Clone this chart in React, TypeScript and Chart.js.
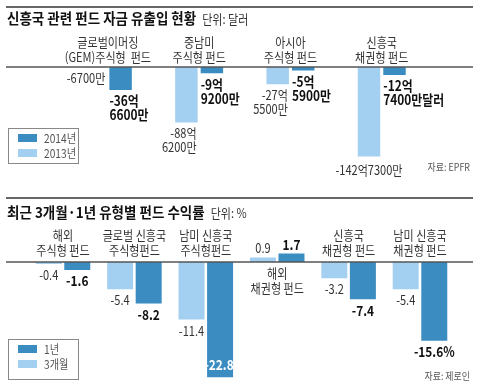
import React, { useEffect, useRef } from "react";
import { Chart, registerables } from "chart.js";
Chart.register(...registerables);

// ---------- Data: fund flows (unit: 억 달러) ----------
const flowCategories = [
  ["글로벌이머징", "(GEM)주식형  펀드"],
  ["중남미", "주식형 펀드"],
  ["아시아", "주식형 펀드"],
  ["신흥국", "채권형 펀드"],
];
const flow2013 = [-0.67, -88.62, -27.55, -142.73];
const flow2014 = [-36.66, -9.92, -5.59, -12.74];
const flow2013Text = [["-6700만"], ["-88억", "6200만"], ["-27억", "5500만"], ["-142억7300만"]];
const flow2014Text = [["-36억", "6600만"], ["-9억", "9200만"], ["-5억", "5900만"], ["-12억", "7400만달러"]];
const flowLegend = ["2014년", "2013년"];

// ---------- Data: returns (unit: %) ----------
const returnCategories = [
  ["해외", "주식형 펀드"],
  ["글로벌 신흥국", "주식형펀드"],
  ["남미 신흥국", "주식형펀드"],
  ["해외", "채권형 펀드"],
  ["신흥국", "채권형 펀드"],
  ["남미 신흥국", "채권형 펀드"],
];
const return3m = [-0.4, -5.4, -11.4, 0.9, -3.2, -5.4];
const return1y = [-1.6, -8.2, -22.8, 1.7, -7.4, -15.6];
const return3mText = ["-0.4", "-5.4", "-11.4", "0.9", "-3.2", "-5.4"];
const return1yText = ["-1.6", "-8.2", "-22.8", "1.7", "-7.4", "-15.6%"];
const returnLegend = ["1년", "3개월"];

const DARK = "#3a8cc1";
const LIGHT = "#a3cff0";
const FONT = '"Noto Sans CJK KR", "Noto Sans", sans-serif';

type TOpt = { size: number; bold?: boolean; color?: string; align?: "left" | "right" | "center"; sx?: number };
function txt(ctx: CanvasRenderingContext2D, s: string, x: number, y: number, o: TOpt): number {
  ctx.save();
  ctx.font = `${o.bold ? "bold " : ""}${o.size}px ${FONT}`;
  ctx.fillStyle = o.color || "#222";
  ctx.textBaseline = "middle";
  ctx.textAlign = "left";
  const sx = o.sx ?? 0.85;
  const w = ctx.measureText(s).width * sx;
  let x0 = x;
  if (o.align === "center") x0 = x - w / 2;
  else if (o.align === "right") x0 = x - w;
  ctx.translate(x0, y);
  ctx.scale(sx, 1);
  ctx.fillText(s, 0, 0);
  ctx.restore();
  return w;
}
function hline(ctx: CanvasRenderingContext2D, y: number, x1: number, x2: number, color = "#444", w = 1.3) {
  ctx.save();
  ctx.strokeStyle = color;
  ctx.lineWidth = w;
  ctx.beginPath();
  ctx.moveTo(x1, y);
  ctx.lineTo(x2, y);
  ctx.stroke();
  ctx.restore();
}
function legendBox(ctx: CanvasRenderingContext2D, top: number, h: number, labels: string[]) {
  ctx.save();
  ctx.strokeStyle = "#888";
  ctx.lineWidth = 1;
  ctx.strokeRect(8.5, top + 0.5, 70, h);
  ctx.fillStyle = DARK;
  ctx.fillRect(18, top + 6, 19, 8);
  ctx.fillStyle = LIGHT;
  ctx.fillRect(18, top + 21, 19, 8);
  ctx.restore();
  txt(ctx, labels[0], 44, top + 10, { size: 12, color: "#555" });
  txt(ctx, labels[1], 44, top + 25, { size: 12, color: "#555" });
}

const flowPlugin = {
  id: "flowDecor",
  afterDraw(chart: any) {
    const ctx = chart.ctx as CanvasRenderingContext2D;
    const xs = chart.scales.x;
    const ys = chart.scales.y;
    hline(ctx, 7, 6, 473, "#333", 1.5);
    const tw = txt(ctx, "신흥국 관련 펀드 자금 유출입 현황", 7, 18, { size: 15, bold: true, sx: 0.9, color: "#111" });
    txt(ctx, "단위: 달러", 7 + tw + 6, 19, { size: 13, color: "#333" });
    flowCategories.forEach((lines, i) => {
      const cx = xs.getPixelForValue(i);
      txt(ctx, lines[0], cx, 42, { size: 13, align: "center", color: "#333" });
      txt(ctx, lines[1], cx, 57, { size: 13, align: "center", color: "#333" });
    });
    const y0 = ys.getPixelForValue(0);
    hline(ctx, y0, 6, 473, "#555", 1.3);
    const mLight = chart.getDatasetMeta(0);
    const mDark = chart.getDatasetMeta(1);
    const minLight = Math.min(...flow2013);
    flow2013Text.forEach((lines, i) => {
      const b = mLight.data[i];
      const bottom = Math.max(b.y, b.base);
      const centered = flow2013[i] === minLight;
      lines.forEach((s, k) => {
        const y = bottom + (centered ? 14 : 11) + k * 14;
        if (centered) txt(ctx, s, b.x, y, { size: 13, align: "center", color: "#333" });
        else txt(ctx, s, b.x + b.width / 2 - 1, y, { size: 13, align: "right", color: "#333" });
      });
    });
    flow2014Text.forEach((lines, i) => {
      const b = mDark.data[i];
      const bottom = Math.max(b.y, b.base);
      lines.forEach((s, k) => {
        txt(ctx, s, b.x - b.width / 2, bottom + 11 + k * 14, { size: 14, bold: true, color: "#111" });
      });
    });
    legendBox(ctx, 128, 35, flowLegend);
    txt(ctx, "자료: EPFR", 470, 167, { size: 10.5, align: "right", color: "#555" });
  },
};

const returnPlugin = {
  id: "returnDecor",
  afterDraw(chart: any) {
    const ctx = chart.ctx as CanvasRenderingContext2D;
    const xs = chart.scales.x;
    const ys = chart.scales.y;
    hline(ctx, 8, 6, 473, "#333", 1.5);
    const tw = txt(ctx, "최근 3개월·1년 유형별 펀드 수익률", 7, 22, { size: 15, bold: true, sx: 0.9, color: "#111" });
    txt(ctx, "단위: %", 7 + tw + 6, 23, { size: 13, color: "#333" });
    const y0 = ys.getPixelForValue(0);
    returnCategories.forEach((lines, i) => {
      const cx = xs.getPixelForValue(i);
      const below = return1y[i] > 0;
      const ya = below ? y0 + 11 : y0 - 27;
      txt(ctx, lines[0], cx, ya, { size: 13, align: "center", color: "#333" });
      txt(ctx, lines[1], cx, ya + 15, { size: 13, align: "center", color: "#333" });
    });
    hline(ctx, y0, 6, 473, "#555", 1.3);
    const drawVals = (meta: any, texts: string[], bold: boolean) => {
      texts.forEach((s, i) => {
        const b = meta.data[i];
        const positive = b.y < b.base;
        const end = b.y;
        if (positive) {
          txt(ctx, s, b.x, end - 9, { size: bold ? 14 : 13, bold, align: "center", color: bold ? "#111" : "#333" });
        } else if (end + 11 > chart.height - 10) {
          txt(ctx, s, b.x - 1, end - 12, { size: 14, bold, align: "center", color: "#fff" });
        } else {
          txt(ctx, s, b.x, end + 11, { size: bold ? 14 : 13, bold, align: "center", color: bold ? "#111" : "#333" });
        }
      });
    };
    drawVals(chart.getDatasetMeta(0), return3mText, false);
    drawVals(chart.getDatasetMeta(1), return1yText, true);
    legendBox(ctx, 149, 40, returnLegend);
    txt(ctx, "자료: 제로인", 470, 186, { size: 10.5, align: "right", color: "#555" });
  },
};

function FlowChart() {
  const ref = useRef<HTMLCanvasElement>(null);
  useEffect(() => {
    const chart = new Chart(ref.current!, {
      type: "bar",
      data: {
        labels: flowCategories.map((c) => c.join(" ")),
        datasets: [
          { label: flowLegend[1], data: flow2013, backgroundColor: LIGHT, borderWidth: 0 },
          { label: flowLegend[0], data: flow2014, backgroundColor: DARK, borderWidth: 0 },
        ],
      },
      options: {
        responsive: false,
        animation: false,
        devicePixelRatio: 1,
        datasets: { bar: { categoryPercentage: 0.559, barPercentage: 0.88 } },
        layout: { padding: { left: 62.2, right: 52.6, top: 67, bottom: 22.8 } },
        plugins: { legend: { display: false }, tooltip: { enabled: false }, title: { display: false } },
        scales: {
          x: { display: false },
          y: { display: false, min: -160, max: 0 },
        },
      } as any,
      plugins: [flowPlugin],
    });
    return () => chart.destroy();
  }, []);
  return <canvas ref={ref} width={480} height={190} style={{ display: "block" }} />;
}

function ReturnChart() {
  const ref = useRef<HTMLCanvasElement>(null);
  useEffect(() => {
    const chart = new Chart(ref.current!, {
      type: "bar",
      data: {
        labels: returnCategories.map((c) => c.join(" ")),
        datasets: [
          { label: returnLegend[1], data: return3m, backgroundColor: LIGHT, borderWidth: 0 },
          { label: returnLegend[0], data: return1y, backgroundColor: DARK, borderWidth: 0 },
        ],
      },
      options: {
        responsive: false,
        animation: false,
        devicePixelRatio: 1,
        datasets: { bar: { categoryPercentage: 0.8, barPercentage: 0.91 } },
        layout: { padding: { left: 27.3, right: 24.3, top: 61.9, bottom: 6.8 } },
        plugins: { legend: { display: false }, tooltip: { enabled: false }, title: { display: false } },
        scales: {
          x: { display: false },
          y: { display: false, min: -24, max: 2 },
        },
      } as any,
      plugins: [returnPlugin],
    });
    return () => chart.destroy();
  }, []);
  return <canvas ref={ref} width={480} height={200} style={{ display: "block" }} />;
}

export default function App() {
  return (
    <div style={{ position: "fixed", left: 0, top: 0, width: 480, height: 390, background: "#fff", overflow: "hidden" }}>
      <FlowChart />
      <ReturnChart />
    </div>
  );
}
